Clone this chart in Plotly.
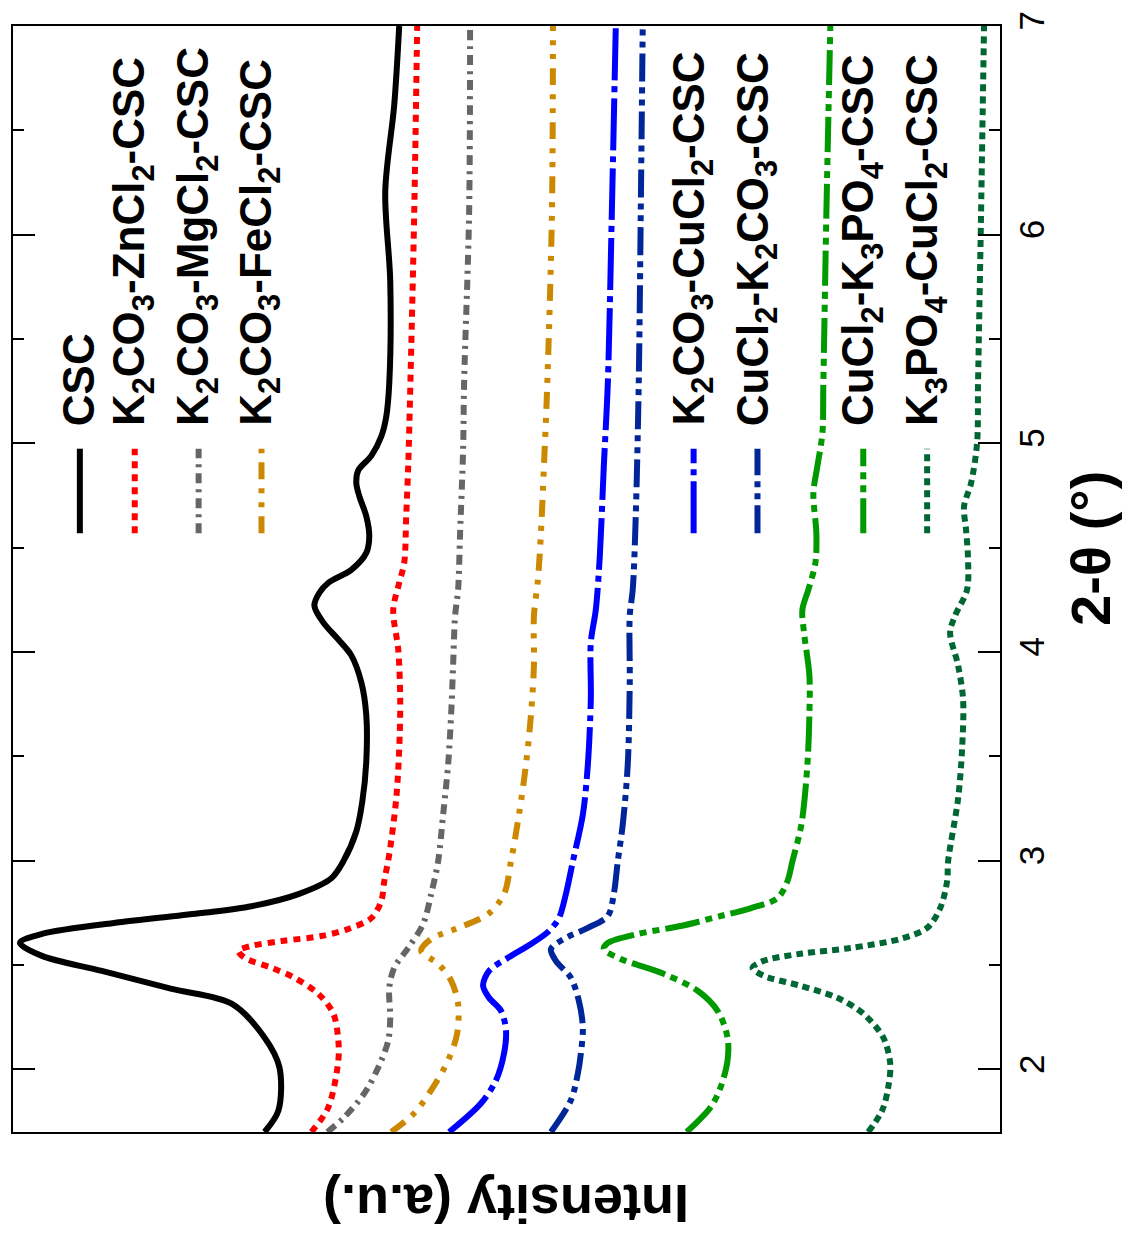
import plotly.graph_objects as go

# ---------------- data (2-theta in degrees, intensity in arbitrary units) ----------------
csc_tt = [1.70, 1.804, 2.009, 2.153, 2.315, 2.386, 2.472, 2.544, 2.606, 2.649,
          2.706, 2.749, 2.782, 2.84, 2.916, 2.997, 3.14, 3.283, 3.474, 3.698,
          3.855, 3.984, 4.06, 4.141, 4.222, 4.284, 4.332, 4.394, 4.475, 4.556,
          4.651, 4.747, 4.809, 4.871, 4.94, 5.033, 5.128, 5.286, 5.777, 6.206,
          6.621, 7.0]
csc_int = [73.7, 72.3, 72.2, 73.7, 77.0, 83.0, 90.0, 96.0, 98.2, 96.0,
           88.0, 80.0, 75.0, 70.3, 67.0, 65.8, 64.5, 63.9, 63.5, 63.5,
           64.0, 65.0, 66.3, 67.8, 68.7, 68.2, 67.3, 65.0, 63.5, 63.2,
           63.5, 64.2, 64.5, 64.3, 63.0, 62.0, 61.5, 61.2, 61.1, 61.6,
           60.7, 60.2]

zn_tt = [1.70, 1.819, 2.043, 2.138, 2.267, 2.362, 2.439, 2.487, 2.535, 2.568,
         2.592, 2.615, 2.639, 2.673, 2.725, 2.806, 2.902, 3.03, 3.297, 3.536,
         3.774, 4.013, 4.203, 4.332, 4.427, 4.651, 4.89, 5.252, 6.096, 7.0]
zn_int = [69.0, 67.3, 66.3, 66.3, 66.8, 68.3, 70.7, 73.0, 75.7, 76.3,
          75.0, 72.0, 68.0, 65.3, 63.0, 62.0, 61.7, 61.2, 60.5, 60.2,
          60.1, 60.3, 60.8, 60.2, 59.7, 59.5, 59.3, 59.1, 58.7, 58.4]

mg_tt = [1.70, 1.771, 1.885, 2.009, 2.138, 2.248, 2.391, 2.487, 2.582, 2.697,
         2.84, 2.997, 3.221, 3.46, 3.698, 3.936, 4.174, 4.299, 4.57, 4.966,
         5.286, 6.096, 7.0]
mg_int = [67.4, 65.7, 63.7, 62.3, 61.3, 61.1, 61.2, 60.7, 59.3, 57.8,
          57.0, 56.3, 55.8, 55.3, 55.0, 54.8, 54.6, 54.3, 54.1, 53.8,
          53.7, 53.2, 53.1]

fe_tt = [1.70, 1.79, 1.9, 2.043, 2.171, 2.315, 2.425, 2.506, 2.568, 2.625,
         2.678, 2.744, 2.84, 2.997, 3.221, 3.46, 3.698, 3.936, 4.174, 4.346,
         4.57, 4.89, 5.238, 6.096, 7.0]
fe_int = [61.0, 58.7, 57.0, 55.3, 54.4, 54.3, 55.0, 56.3, 58.0, 57.0,
          54.3, 51.3, 49.7, 49.0, 48.2, 47.5, 47.0, 46.7, 46.7, 46.3,
          46.0, 45.7, 45.4, 44.9, 44.8]

cu_tt = [1.70, 1.838, 1.948, 2.076, 2.186, 2.281, 2.343, 2.401, 2.472, 2.535,
         2.601, 2.663, 2.725, 2.84, 2.997, 3.221, 3.46, 3.774, 4.046, 4.203,
         4.461, 4.89, 5.286, 6.096, 7.0]
cu_int = [55.2, 52.0, 50.5, 49.7, 49.5, 50.0, 51.2, 51.8, 51.2, 49.3,
          47.0, 45.2, 44.2, 43.5, 42.8, 41.8, 41.3, 41.0, 41.0, 40.5,
          40.1, 39.7, 39.3, 38.9, 38.5]

cuk_tt = [1.70, 1.852, 1.981, 2.076, 2.2, 2.329, 2.439, 2.52, 2.577, 2.625,
          2.678, 2.735, 2.84, 2.997, 3.174, 3.46, 3.855, 4.174, 4.299, 4.651,
          5.286, 6.096, 7.0]
cuk_int = [45.0, 43.0, 42.3, 42.0, 41.8, 42.2, 43.0, 44.5, 45.0, 43.7,
           41.3, 39.3, 38.7, 38.3, 37.8, 37.3, 37.1, 37.1, 36.8, 36.5,
           36.2, 36.0, 35.8]

cup_tt = [1.70, 1.819, 1.914, 2.043, 2.153, 2.281, 2.377, 2.458, 2.529, 2.577,
          2.606, 2.649, 2.687, 2.735, 2.772, 2.821, 2.902, 2.997, 3.174, 3.46,
          3.698, 3.889, 4.079, 4.203, 4.299, 4.427, 4.57, 4.761, 4.89, 5.047,
          5.286, 6.096, 7.0]
cup_int = [31.4, 29.0, 28.0, 27.3, 27.3, 28.3, 30.3, 33.7, 38.0, 39.7,
           39.3, 36.3, 32.0, 28.0, 25.0, 22.3, 21.3, 20.8, 19.9, 19.3,
           19.1, 19.1, 19.6, 19.8, 19.2, 18.5, 18.4, 18.7, 18.3, 17.8,
           17.7, 17.4, 17.0]

pcu_tt = [1.70, 1.804, 1.914, 2.028, 2.153, 2.267, 2.343, 2.401, 2.449, 2.487,
          2.52, 2.554, 2.582, 2.625, 2.678, 2.772, 2.902, 2.997, 3.297, 3.536,
          3.774, 3.936, 4.094, 4.174, 4.299, 4.442, 4.585, 4.699, 4.809, 5.0,
          5.286, 6.096, 7.0]
pcu_int = [13.2, 11.8, 11.2, 11.0, 11.7, 13.7, 16.3, 20.0, 23.7, 24.8,
           23.7, 20.0, 15.0, 10.0, 7.3, 6.0, 5.3, 5.2, 4.2, 3.8,
           3.7, 4.2, 5.0, 4.5, 3.3, 3.2, 3.4, 3.6, 2.9, 2.3,
           2.2, 1.9, 1.6]

names = ["CSC",
         "K<sub>2</sub>CO<sub>3</sub>-ZnCl<sub>2</sub>-CSC",
         "K<sub>2</sub>CO<sub>3</sub>-MgCl<sub>2</sub>-CSC",
         "K<sub>2</sub>CO<sub>3</sub>-FeCl<sub>2</sub>-CSC",
         "K<sub>2</sub>CO<sub>3</sub>-CuCl<sub>2</sub>-CSC",
         "CuCl<sub>2</sub>-K<sub>2</sub>CO<sub>3</sub>-CSC",
         "CuCl<sub>2</sub>-K<sub>3</sub>PO<sub>4</sub>-CSC",
         "K<sub>3</sub>PO<sub>4</sub>-CuCl<sub>2</sub>-CSC"]
series_tt = [csc_tt, zn_tt, mg_tt, fe_tt, cu_tt, cuk_tt, cup_tt, pcu_tt]
series_int = [csc_int, zn_int, mg_int, fe_int, cu_int, cuk_int, cup_int, pcu_int]

tick_vals = [2, 3, 4, 5, 6, 7]
tick_text = ["2", "3", "4", "5", "6", "7"]

# ---------------- styles ----------------
colors = ["#000000", "#ff0000", "#666666", "#cc8800",
          "#0000ff", "#002699", "#009900", "#006633"]
dashes = ["solid", "7px,6px", "10px,6px,3px,6px", "17px,9px,5px,9px,5px,9px",
          "52px,6px,6px,6px", "28px,6px,6px,6px,6px,6px",
          "35px,6px,7px,6px,7px,6px", "7px,5px"]
LW = 6

W, H = 1125, 1233
ML, MR, MT, MB = 11, 125, 20, 101
PW = W - ML - MR
PH = H - MT - MB


def px(x):
    return (x - ML) / PW


def py(y):
    return (H - MB - y) / PH


fig = go.Figure()
for nm, tt, it, c, d in zip(names, series_tt, series_int, colors, dashes):
    fig.add_trace(go.Scatter(x=it, y=tt, mode="lines", name=nm,
                             line=dict(color=c, width=LW, dash=d,
                                       shape="spline", smoothing=0.9),
                             showlegend=False))

# legend (rotated, drawn as shapes + annotations)
leg_x = [78, 133, 197, 260, 693, 757, 863, 927]
FONT = "Liberation Sans"
for nm, c, d, lx in zip(names, colors, dashes, leg_x):
    fig.add_shape(type="line", xref="paper", yref="paper",
                  x0=px(lx), x1=px(lx), y0=py(530), y1=py(445),
                  line=dict(color=c, width=LW, dash=d))
    fig.add_annotation(xref="paper", yref="paper", x=px(lx - 2), y=py(424),
                       xanchor="center", yanchor="bottom", showarrow=False,
                       text=nm, textangle=-90,
                       font=dict(family=FONT, size=44, color="black", weight="bold"))

# axis titles
fig.add_annotation(xref="paper", yref="paper", x=px(1090), y=py(545),
                   xanchor="center", yanchor="middle", showarrow=False,
                   text="2-θ (°)", textangle=-90,
                   font=dict(family=FONT, size=56, color="black", weight="bold"))
fig.add_annotation(xref="paper", yref="paper", x=px(505), y=py(1205),
                   xanchor="center", yanchor="middle", showarrow=False,
                   text="Intensity (a.u.)", textangle=180,
                   font=dict(family=FONT, size=54, color="black", weight="bold"))

fig.update_layout(
    width=W, height=H,
    margin=dict(l=ML, r=MR, t=MT, b=MB),
    paper_bgcolor="white", plot_bgcolor="white",
    font=dict(family=FONT, color="black"),
    xaxis=dict(range=[PW / 10, 0], showgrid=False, zeroline=False,
               showticklabels=False, ticks="", showline=True, mirror=True,
               linecolor="black", linewidth=2),
    yaxis=dict(range=[1.7, 7], side="right", showgrid=False, zeroline=False,
               tickmode="array", tickvals=tick_vals, ticktext=tick_text,
               ticks="inside", ticklen=22, tickwidth=2, tickcolor="black",
               tickangle=-90, tickfont=dict(family=FONT, size=35, color="black"),
               showline=True, mirror="allticks", linecolor="black", linewidth=2,
               minor=dict(tickmode="linear", tick0=0.5, dtick=1, ticks="inside",
                          ticklen=11, tickwidth=2, tickcolor="black")),
)

fig.write_html("out.html")
